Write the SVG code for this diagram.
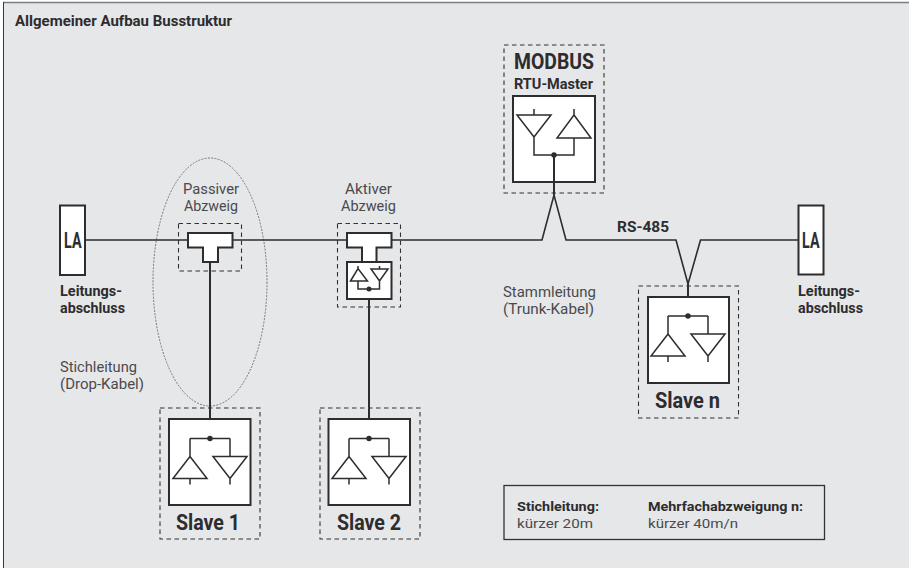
<svg xmlns="http://www.w3.org/2000/svg" width="909" height="568" viewBox="0 0 909 568">
<style>
text{font-family:Roboto,"Liberation Sans",sans-serif;fill:#2d2c2e;font-size:14.5px}
text.b{font-weight:700}
text.r{fill:#4a4a4c}
text.big{font-weight:700;font-size:22px}
text.s{font-size:13.5px}
.w{fill:#fff;stroke:#2d2c2e;stroke-width:2}
.d{fill:none;stroke:#333;stroke-width:1.1;stroke-dasharray:4.5 3.5}
.l{fill:none;stroke:#2d2c2e;stroke-width:1.6}
.m{fill:none;stroke:#2d2c2e;stroke-width:2}
.t{fill:none;stroke:#2d2c2e;stroke-width:1.5}
.dot{fill:#2d2c2e}
</style>
<defs>
<g id="amps">
<path class="t" d="M-20 0H20M-20 0V18M20 0V18M-20 18L-37 40H-3ZM-20 40V46M3 18H37L20 40ZM20 40V46"/>
<circle class="dot" cx="0" cy="0" r="2.700"/>
</g>
</defs>
<rect x="0" y="0" width="909" height="568" fill="#fff"/>
<rect x="3" y="2" width="906" height="566" fill="#e6e7e9"/>
<path d="M3 2.500H909" fill="none" stroke="#7d7d7f" stroke-width="1.500"/>
<path d="M3.500 2V568" fill="none" stroke="#3a3a3c" stroke-width="1"/>
<text id="title" class="b" x="15" y="26" textLength="217" lengthAdjust="spacingAndGlyphs">Allgemeiner Aufbau Busstruktur</text>

<ellipse id="ellipse" cx="210" cy="282" rx="57" ry="124" fill="none" stroke="#6a6a6c" stroke-width="0.900" stroke-dasharray="2 1.300"/>

<g id="connectors">
<path class="l" d="M85 240H542L554 195L566 240H676L688 284L700.500 240H798"/>
<path class="m" d="M210 262V438M369 299V438M554 155V195M688 284V316"/>
</g>

<g id="la-left">
<rect class="w" x="60" y="205.500" width="25" height="69.500"/>
<text class="big" x="64" y="248" textLength="17.500" lengthAdjust="spacingAndGlyphs">LA</text>
<text class="b" x="60" y="296" textLength="62" lengthAdjust="spacingAndGlyphs">Leitungs-</text>
<text class="b" x="60" y="313" textLength="65" lengthAdjust="spacingAndGlyphs">abschluss</text>
</g>

<g id="la-right">
<rect class="w" x="798.500" y="205.500" width="25" height="69"/>
<text class="big" x="802" y="248" textLength="17.500" lengthAdjust="spacingAndGlyphs">LA</text>
<text class="b" x="798" y="296" textLength="62" lengthAdjust="spacingAndGlyphs">Leitungs-</text>
<text class="b" x="798" y="313" textLength="65" lengthAdjust="spacingAndGlyphs">abschluss</text>
</g>

<g id="passiver-abzweig">
<rect class="d" x="178.500" y="223.500" width="63" height="47.500"/>
<path class="w" d="M188 233H232.500V247.500H218V262H203V247.500H188Z"/>
<text class="r" x="183" y="194" textLength="56" lengthAdjust="spacingAndGlyphs">Passiver</text>
<text class="r" x="184" y="211" textLength="54" lengthAdjust="spacingAndGlyphs">Abzweig</text>
</g>

<g id="aktiver-abzweig">
<rect class="d" x="337.500" y="223.500" width="63" height="83.500"/>
<path class="w" d="M347 233H391.500V247.500H376.500V262H362V247.500H347Z"/>
<rect class="w" x="347" y="262" width="44.500" height="37"/>
<path class="t" d="M358 281V289H379.500V281M350.500 281L358 268.500L367.500 281ZM358 268.500V266M371 269H388L379.500 281ZM379.500 269V266"/>
<circle class="dot" cx="369" cy="289" r="2.500"/>
<text class="r" x="345" y="194" textLength="47" lengthAdjust="spacingAndGlyphs">Aktiver</text>
<text class="r" x="341" y="211" textLength="55" lengthAdjust="spacingAndGlyphs">Abzweig</text>
</g>

<g id="modbus">
<rect class="d" x="504" y="45" width="100" height="148"/>
<rect class="w" x="513" y="96" width="82" height="86"/>
<path class="t" d="M534 109V115M517 115H551L534 137ZM534 137V155H574V138M574 109V115L557 138H591L574 115"/>
<circle class="dot" cx="554" cy="155" r="2.700"/>
<path class="m" d="M554 155V182"/>
<text class="big" x="514" y="69" textLength="80" lengthAdjust="spacingAndGlyphs">MODBUS</text>
<text class="b" x="514" y="88.500" textLength="79" lengthAdjust="spacingAndGlyphs">RTU-Master</text>
</g>

<g id="slave-1">
<rect class="d" x="160" y="408" width="100" height="131"/>
<rect class="w" x="169" y="419" width="81.500" height="86"/>
<use href="#amps" x="210" y="438.500"/>
<text class="big" x="176" y="530" textLength="64" lengthAdjust="spacingAndGlyphs">Slave 1</text>
</g>

<g id="slave-2">
<rect class="d" x="320" y="408" width="100" height="131"/>
<rect class="w" x="328.500" y="419" width="81.500" height="86"/>
<use href="#amps" x="369" y="438.500"/>
<text class="big" x="337" y="530" textLength="64" lengthAdjust="spacingAndGlyphs">Slave 2</text>
</g>

<g id="slave-n">
<rect class="d" x="638.500" y="286" width="100" height="132"/>
<rect class="w" x="648" y="297" width="81" height="86"/>
<use href="#amps" x="688" y="316"/>
<text class="big" x="655" y="408" textLength="65" lengthAdjust="spacingAndGlyphs">Slave n</text>
</g>

<text class="r" x="60" y="372" textLength="77" lengthAdjust="spacingAndGlyphs">Stichleitung</text>
<text class="r" x="60" y="389" textLength="84" lengthAdjust="spacingAndGlyphs">(Drop-Kabel)</text>
<text class="r" x="503" y="297" textLength="93" lengthAdjust="spacingAndGlyphs">Stammleitung</text>
<text class="r" x="503" y="314" textLength="91" lengthAdjust="spacingAndGlyphs">(Trunk-Kabel)</text>
<text class="b" x="617" y="231.500" textLength="52" lengthAdjust="spacingAndGlyphs">RS-485</text>

<g id="legend">
<rect x="504" y="485.500" width="320.500" height="54" fill="none" stroke="#333" stroke-width="1.300"/>
<text class="b s" x="517" y="510.500" textLength="82" lengthAdjust="spacingAndGlyphs">Stichleitung:</text>
<text class="r s" x="517" y="527.500" textLength="76" lengthAdjust="spacingAndGlyphs">kürzer 20m</text>
<text class="b s" x="648" y="510.500" textLength="155" lengthAdjust="spacingAndGlyphs">Mehrfachabzweigung n:</text>
<text class="r s" x="648" y="527.500" textLength="90" lengthAdjust="spacingAndGlyphs">kürzer 40m/n</text>
</g>
</svg>
